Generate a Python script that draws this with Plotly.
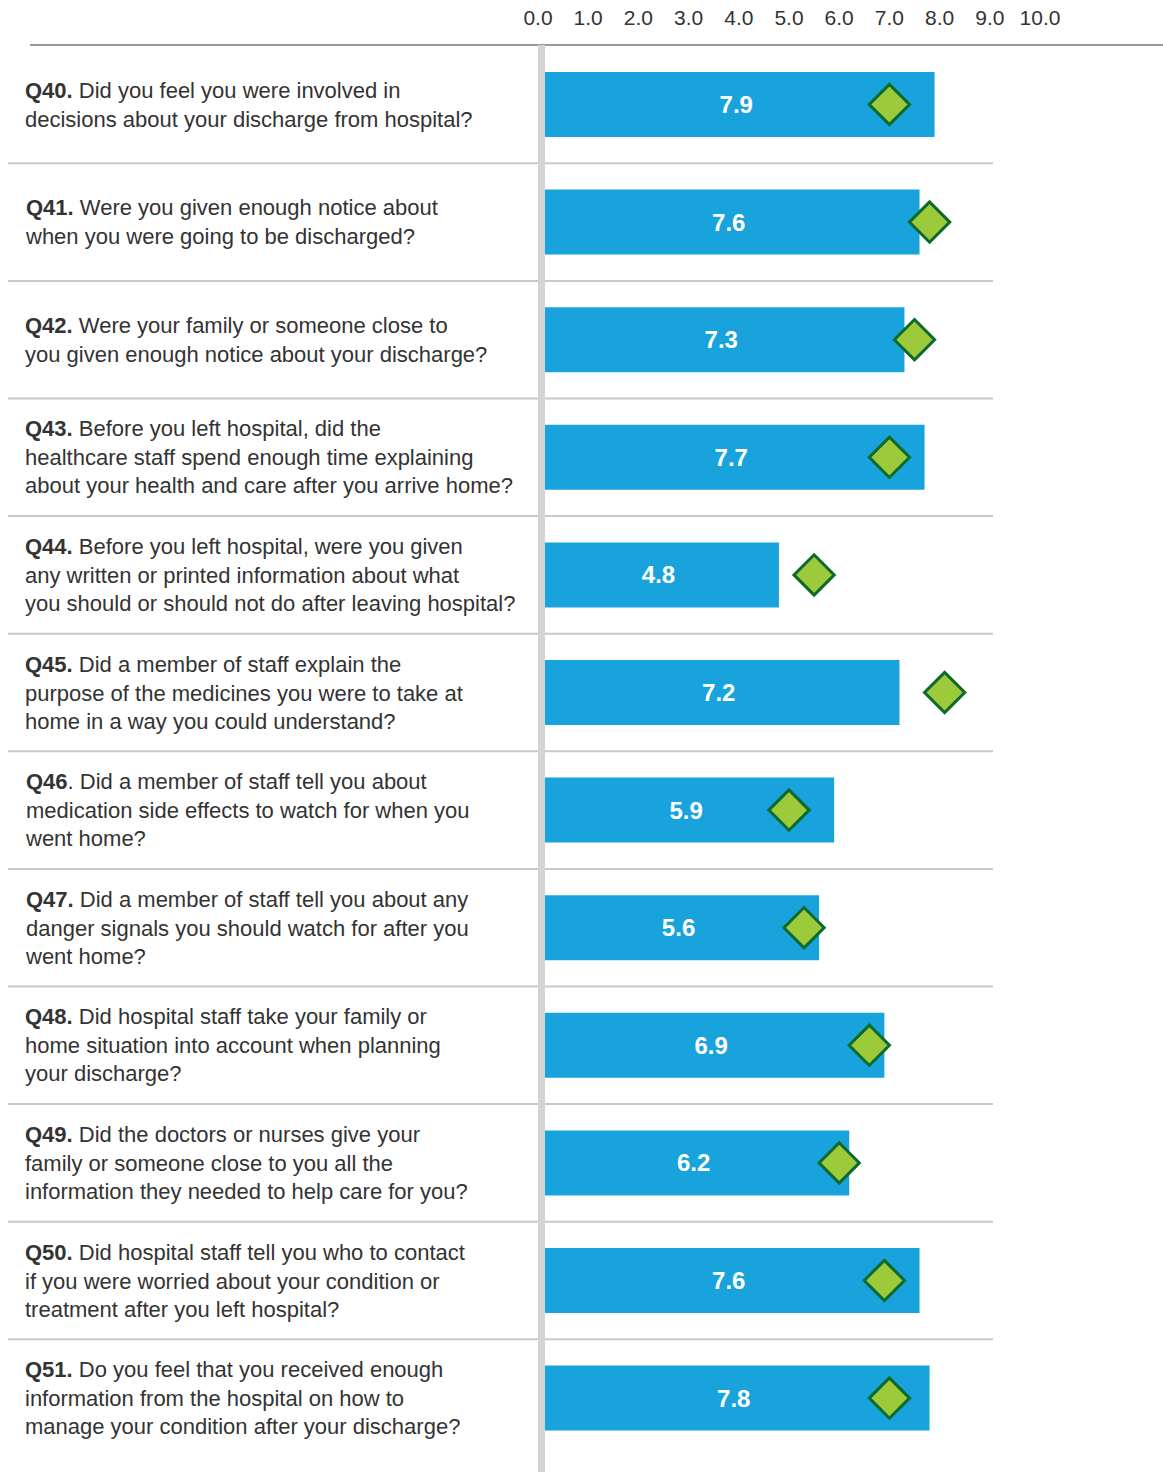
import plotly.graph_objects as go

# Question codes and wording (line breaks as laid out in the report)
codes = ["Q40", "Q41", "Q42", "Q43", "Q44", "Q45", "Q46", "Q47", "Q48", "Q49", "Q50", "Q51"]
questions = [
    ["Did you feel you were involved in", "decisions about your discharge from hospital?"],
    ["Were you given enough notice about", "when you were going to be discharged?"],
    ["Were your family or someone close to", "you given enough notice about your discharge?"],
    ["Before you left hospital, did the", "healthcare staff spend enough time explaining",
     "about your health and care after you arrive home?"],
    ["Before you left hospital, were you given", "any written or printed information about what",
     "you should or should not do after leaving hospital?"],
    ["Did a member of staff explain the", "purpose of the medicines you were to take at",
     "home in a way you could understand?"],
    ["Did a member of staff tell you about", "medication side effects to watch for when you",
     "went home?"],
    ["Did a member of staff tell you about any", "danger signals you should watch for after you",
     "went home?"],
    ["Did hospital staff take your family or", "home situation into account when planning",
     "your discharge?"],
    ["Did the doctors or nurses give your", "family or someone close to you all the",
     "information they needed to help care for you?"],
    ["Did hospital staff tell you who to contact", "if you were worried about your condition or",
     "treatment after you left hospital?"],
    ["Do you feel that you received enough", "information from the hospital on how to",
     "manage your condition after your discharge?"],
]

# Hospital score (bars) and comparison score (diamonds), 0-10 scale
scores = [7.9, 7.6, 7.3, 7.7, 4.8, 7.2, 5.9, 5.6, 6.9, 6.2, 7.6, 7.8]
comparison = [7.0, 7.8, 7.5, 7.0, 5.5, 8.1, 5.0, 5.3, 6.6, 6.0, 6.9, 7.0]

tick_values = [0, 1, 2, 3, 4, 5, 6, 7, 8, 9, 10]
tick_labels = ["0.0", "1.0", "2.0", "3.0", "4.0", "5.0", "6.0", "7.0", "8.0", "9.0", "10.0"]

W, H = 1163, 1472
TOP = 45            # pixel position of the header rule
ZERO_PX = 538       # pixel position of score 0
PX_PER_UNIT = 50.2  # horizontal scale
ROW = 117.6         # row pitch in pixels
FIRST_ROW = 104.5   # centre of the first row in pixels

BAR_COLOR = "#19a3dd"
DIAMOND_FILL = "#9dca3b"
DIAMOND_LINE = "#0c6a2c"
TEXT_COLOR = "#333333"
NARROW = "Liberation Sans Narrow, Arial Narrow, sans-serif"

idx = list(range(len(codes)))

fig = go.Figure()

fig.add_trace(go.Bar(
    x=scores,
    y=idx,
    orientation="h",
    width=0.553,
    marker=dict(color=BAR_COLOR, line=dict(width=0)),
    text=[f"{v:.1f}" for v in scores],
    texttemplate="<b>%{text}</b>",
    textposition="inside",
    insidetextanchor="middle",
    textangle=0,
    constraintext="none",
    textfont=dict(family="Liberation Sans, Arial, sans-serif", size=24, color="white"),
    hoverinfo="skip",
    showlegend=False,
))

fig.add_trace(go.Scatter(
    x=comparison,
    y=idx,
    mode="markers",
    marker=dict(symbol="diamond", size=31, color=DIAMOND_FILL,
                line=dict(color=DIAMOND_LINE, width=3)),
    hoverinfo="skip",
    showlegend=False,
))

# Question text on the left
for i, (code, lines) in enumerate(zip(codes, questions)):
    label = f"<b>{code}</b>" + ("." if code == "Q46" else "<b>.</b>")
    text = label + " " + "<br>".join(lines)
    fig.add_annotation(
        xref="paper", yref="y",
        x=23 / W, y=i,
        xanchor="left", yanchor="middle",
        align="left",
        text=text,
        showarrow=False,
        font=dict(family=NARROW, size=22, color=TEXT_COLOR),
    )

shapes = []
# Row separators
for i in range(len(codes) - 1):
    shapes.append(dict(
        type="line", xref="paper", yref="y",
        x0=8 / W, x1=993 / W, y0=i + 0.5, y1=i + 0.5,
        line=dict(color="#c8c8cc", width=2), layer="below",
    ))
# Header rule
shapes.append(dict(
    type="line", xref="paper", yref="paper",
    x0=30 / W, x1=1.0, y0=1 - TOP / H, y1=1 - TOP / H,
    line=dict(color="#9a9a9a", width=2),
))
# Vertical baseline bar at zero
shapes.append(dict(
    type="rect", xref="x", yref="paper",
    x0=0, x1=7 / PX_PER_UNIT, y0=0, y1=1 - TOP / H,
    fillcolor="#d4d4d4", line=dict(width=0), layer="above",
))

x_min = -ZERO_PX / PX_PER_UNIT
x_max = (W - ZERO_PX) / PX_PER_UNIT
y_top = (TOP - FIRST_ROW) / ROW
y_bottom = (H - FIRST_ROW) / ROW

fig.update_layout(
    width=W, height=H,
    margin=dict(l=0, r=0, t=0, b=0),
    paper_bgcolor="white",
    plot_bgcolor="white",
    shapes=shapes,
    xaxis=dict(
        domain=[0, 1],
        range=[x_min, x_max],
        side="top",
        tickvals=tick_values,
        ticktext=tick_labels,
        tickfont=dict(family=NARROW, size=21, color=TEXT_COLOR),
        ticks="outside", ticklen=11, tickcolor="rgba(0,0,0,0)",
        showgrid=False, zeroline=False, showline=False,
        fixedrange=True,
    ),
    yaxis=dict(
        domain=[0, 1 - TOP / H],
        range=[y_bottom, y_top],
        showticklabels=False, showgrid=False, zeroline=False, showline=False,
        ticks="",
        fixedrange=True,
    ),
)

fig.write_html("out.html")
